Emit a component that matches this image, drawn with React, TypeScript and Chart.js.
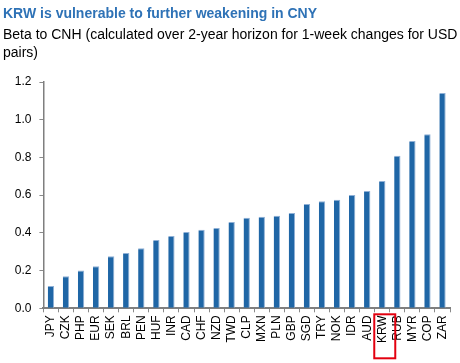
import React, { useEffect, useRef } from "react";
import { Chart, registerables } from "chart.js";

Chart.register(...registerables);

const TITLE = "KRW is vulnerable to further weakening in CNY";
const SUBTITLE_1 = "Beta to CNH (calculated over 2-year horizon for 1-week changes for USD";
const SUBTITLE_2 = "pairs)";

const categories = [
  "JPY", "CZK", "PHP", "EUR", "SEK", "BRL", "PEN", "HUF", "INR", "CAD", "CHF", "NZD", "TWD",
  "CLP", "MXN", "PLN", "GBP", "SGD", "TRY", "NOK", "IDR", "AUD", "KRW", "RUB", "MYR", "COP", "ZAR",
];

const betaValues = [
  0.118, 0.17, 0.2, 0.223, 0.276, 0.293, 0.318, 0.362, 0.383, 0.405, 0.417, 0.426, 0.458,
  0.48, 0.486, 0.491, 0.505, 0.553, 0.567, 0.576, 0.601, 0.622, 0.675, 0.809, 0.887, 0.923, 1.142,
];

const yTicks = [0, 0.2, 0.4, 0.6, 0.8, 1.0, 1.2];
const highlighted = "KRW";

const FONT = '"Liberation Sans", Arial, Helvetica, sans-serif';

const highlightPlugin = {
  id: "highlightBox",
  afterDraw(chart: any) {
    const xs = chart.scales.x;
    const idx = categories.indexOf(highlighted);
    if (idx < 0) return;
    const cx = xs.getPixelForValue(idx);
    const ctx = chart.ctx;
    ctx.save();
    ctx.strokeStyle = "#e3000f";
    ctx.lineWidth = 2;
    ctx.strokeRect(cx - 8, xs.top + 6, 21, 44);
    ctx.restore();
  },
};

export default function App() {
  const ref = useRef<HTMLCanvasElement | null>(null);

  useEffect(() => {
    if (!ref.current) return;
    const chart = new Chart(ref.current, {
      type: "bar",
      data: {
        labels: categories,
        datasets: [
          {
            data: betaValues,
            backgroundColor: "#1f66a6",
            borderColor: "#8fb0d6",
            borderWidth: { top: 1, right: 1, left: 0, bottom: 0 },
            borderSkipped: "bottom",
            barPercentage: 0.42,
            categoryPercentage: 1,
          },
        ],
      },
      options: {
        animation: false,
        responsive: false,
        maintainAspectRatio: false,
        layout: { padding: { top: 82, right: 5, bottom: 0, left: 0 } },
        plugins: {
          legend: { display: false },
          tooltip: { enabled: false },
          title: { display: false },
        },
        scales: {
          x: {
            grid: {
              display: true,
              drawOnChartArea: false,
              drawTicks: true,
              tickLength: 4,
              color: "#8a8a8a",
              offset: true,
            },
            border: { display: true, color: "#7f7f7f", width: 2 },
            ticks: {
              autoSkip: false,
              maxRotation: 90,
              minRotation: 90,
              color: "#000",
              padding: 3,
              font: { family: FONT, size: 12 },
            },
            afterFit(scale: any) {
              scale.height = 54.7;
            },
          },
          y: {
            min: 0,
            max: 1.2,
            afterBuildTicks(scale: any) {
              scale.ticks = yTicks.map((v) => ({ value: v }));
            },
            grid: {
              display: true,
              drawOnChartArea: false,
              drawTicks: true,
              tickLength: 4,
              color: "#8a8a8a",
            },
            border: { display: true, color: "#7f7f7f", width: 1.5 },
            ticks: {
              color: "#000",
              padding: 8,
              font: { family: FONT, size: 12 },
              callback: (v: any) => Number(v).toFixed(1),
            },
            afterFit(scale: any) {
              scale.width = 43.4;
            },
          },
        },
      },
      plugins: [highlightPlugin],
    });
    return () => chart.destroy();
  }, []);

  return (
    <div>
      <canvas
        ref={ref}
        width={460}
        height={363}
        style={{ position: "absolute", left: 0, top: 0, width: 460, height: 363 }}
      />
      <div
        style={{
          position: "absolute",
          left: 3,
          top: 4.5,
          fontFamily: FONT,
          fontSize: 14,
          lineHeight: "16px",
          fontWeight: "bold",
          color: "#2e72b6",
          whiteSpace: "nowrap",
        }}
      >
        {TITLE}
      </div>
      <div
        style={{
          position: "absolute",
          left: 3,
          top: 24.5,
          fontFamily: FONT,
          fontSize: 14,
          lineHeight: "18px",
          color: "#000",
          whiteSpace: "nowrap",
        }}
      >
        {SUBTITLE_1}
        <br />
        {SUBTITLE_2}
      </div>
    </div>
  );
}
